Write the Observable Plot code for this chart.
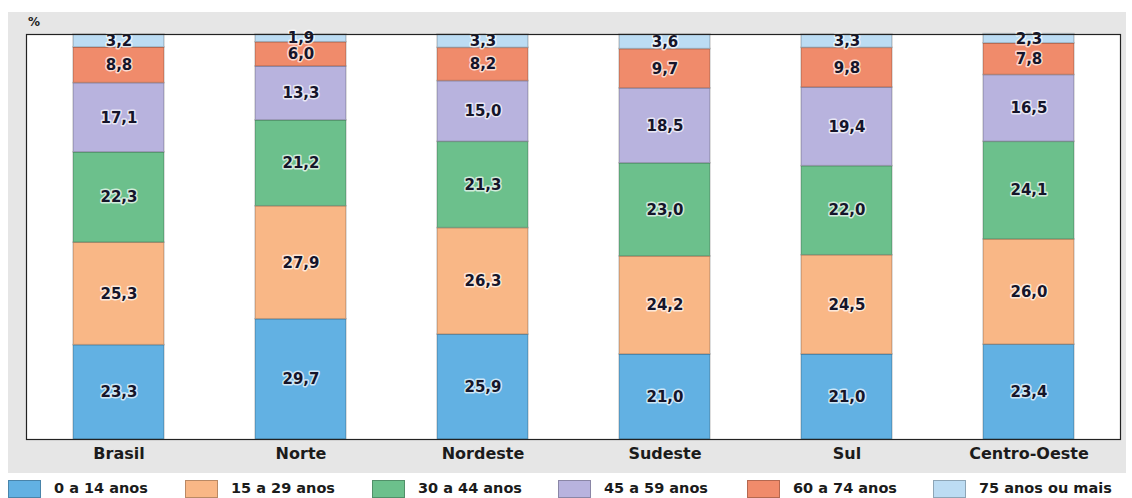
<!DOCTYPE html>
<html>
<head>
<meta charset="utf-8">
<script src="https://cdn.jsdelivr.net/npm/d3@7"></script>
<script src="https://cdn.jsdelivr.net/npm/@observablehq/plot@0.6"></script>
<style>
  html, body { margin: 0; padding: 0; background: #ffffff; }
  #wrap { position: relative; width: 1132px; height: 498px; overflow: hidden; font-family: "DejaVu Sans", sans-serif; }
  #panel { position: absolute; left: 8px; top: 12px; width: 1118px; height: 461px; background: #e6e6e6; }
  #chart { position: absolute; left: 0; top: 0; }
  #pct { position: absolute; left: 28px; top: 15px; font-weight: bold; font-size: 12px; color: #222; }
  .lg { position: absolute; top: 480px; display: flex; align-items: flex-start; font-weight: bold; font-size: 14.5px; color: #1b1b1b; }
  .sw { width: 33px; height: 18px; box-sizing: border-box; border: 1px solid rgba(0,0,0,0.25); margin-right: 13px; }
  .lg span { line-height: 17px; margin-top: 0px; white-space: nowrap; }
</style>
</head>
<body>
<div id="wrap">
  <div id="panel"></div>
  <div id="chart"></div>
  <div id="pct">%</div>
</div>
<script>
const regions = ["Brasil", "Norte", "Nordeste", "Sudeste", "Sul", "Centro-Oeste"];
const groups = ["0 a 14 anos", "15 a 29 anos", "30 a 44 anos", "45 a 59 anos", "60 a 74 anos", "75 anos ou mais"];
const colors = ["#62b1e3", "#f9b786", "#6cc08c", "#b8b3de", "#f08b6b", "#bcdcf3"];
const a0_14  = [23.3, 29.7, 25.9, 21.0, 21.0, 23.4];
const a15_29 = [25.3, 27.9, 26.3, 24.2, 24.5, 26.0];
const a30_44 = [22.3, 21.2, 21.3, 23.0, 22.0, 24.1];
const a45_59 = [17.1, 13.3, 15.0, 18.5, 19.4, 16.5];
const a60_74 = [8.8, 6.0, 8.2, 9.7, 9.8, 7.8];
const a75    = [3.2, 1.9, 3.3, 3.6, 3.3, 2.3];

const series = [a0_14, a15_29, a30_44, a45_59, a60_74, a75];
const data = [];
regions.forEach((r, i) => {
  groups.forEach((g, j) => {
    data.push({region: r, group: g, value: series[j][i]});
  });
});
const fmt = v => v.toFixed(1).replace(".", ",");

const chart = Plot.plot({
  width: 1132,
  height: 473,
  marginLeft: 26,
  marginRight: 12,
  marginTop: 34,
  marginBottom: 34,
  style: {background: "transparent", fontFamily: "DejaVu Sans, sans-serif"},
  x: {domain: regions, paddingInner: 0.5, paddingOuter: 0.25, label: null},
  y: {domain: [0, 100], axis: null},
  color: {domain: groups, range: colors},
  marks: [
    Plot.frame({fill: "white", stroke: "none"}),
    Plot.barY(data, {x: "region", y: "value", z: "group", fill: "group", stroke: "#000", strokeOpacity: 0.18, strokeWidth: 1.5}),
    Plot.text(data, Plot.stackY({x: "region", y: "value", z: "group", text: d => fmt(d.value),
      fill: "#15152a", stroke: "white", strokeWidth: 3, strokeOpacity: 0.7,
      fontWeight: "bold", fontSize: 15})),
    Plot.frame({stroke: "#222", strokeWidth: 1.2}),
    Plot.axisX({tickSize: 0, tickPadding: 8, fontSize: 16, fontWeight: "bold", fill: "#1b1b1b", label: null})
  ]
});
document.getElementById("chart").appendChild(chart);

const lgX = [8, 185, 372, 558, 747, 933];
const wrap = document.getElementById("wrap");
groups.forEach((g, j) => {
  const d = document.createElement("div");
  d.className = "lg";
  d.style.left = lgX[j] + "px";
  const sw = document.createElement("div");
  sw.className = "sw";
  sw.style.background = colors[j];
  const t = document.createElement("span");
  t.textContent = g;
  d.appendChild(sw);
  d.appendChild(t);
  wrap.appendChild(d);
});
</script>
</body>
</html>
